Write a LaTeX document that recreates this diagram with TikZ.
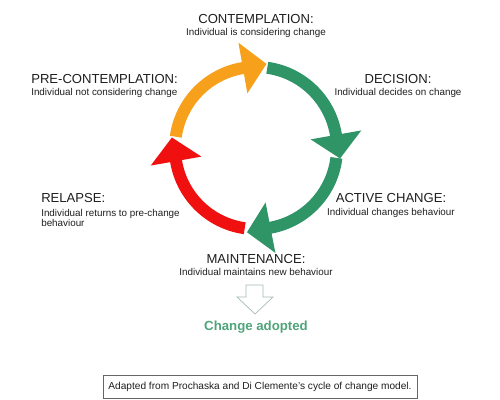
\documentclass[tikz,border=0pt]{standalone}
\usepackage{fontspec}
\setmainfont{Liberation Sans}
\usepackage{tikz}
\usetikzlibrary{positioning,arrows.meta}
\definecolor{cyorange}{HTML}{F7A01C}
\definecolor{cygreen}{HTML}{2F9466}
\definecolor{cyred}{HTML}{F01010}
\definecolor{cylight}{HTML}{4FA47A}
\definecolor{cyink}{HTML}{1E1E1E}

\begin{document}
\begin{tikzpicture}[
  x=0.025cm, y=0.025cm,
  stagetitle/.style={font=\fontsize{9.3}{10}\selectfont\color{cyink}, inner sep=0pt},
  stagetext/.style={font=\fontsize{7}{7.4}\selectfont\color{cyink}, inner sep=0pt},
  cyclearc/.style={line width=0.3cm, -{Triangle[width=1.25cm,length=0.6cm]}},
]
\useasboundingbox (0,0) rectangle (500,400);
\coordinate (ctr) at (256,252);
% the four arcs of the cycle, head straight from the end of each arc
\foreach \a/\c in {172/cyorange, 82/cygreen, -7/cygreen, -98/cyred} {
  \draw[cyclearc, \c] (ctr) ++(\a:81) arc[start angle=\a, end angle=\a-72, radius=81] -- ++(\a-162:25);
}

\node[stagetitle] (contemp) at (256,381) {CONTEMPLATION:};
\node[stagetext] (contempt) at (256,367) {Individual is considering change};
\node[stagetitle, anchor=west] (precon) at (31,321) {PRE-CONTEMPLATION:};
\node[stagetext, anchor=west] (precont) at (31,307) {Individual not considering change};
\node[stagetitle] (decision) at (398,321) {DECISION:};
\node[stagetext] (decisiont) at (398,307) {Individual decides on change};
\node[stagetitle] (active) at (391,202) {ACTIVE CHANGE:};
\node[stagetext] (activet) at (391,187) {Individual changes behaviour};
\node[stagetitle, anchor=west] (relapse) at (41,202) {RELAPSE:};
\node[stagetext, anchor=north west, align=left] (relapset) at (41,191) {Individual returns to pre-change\\behaviour};
\node[stagetitle] (maint) at (256,141) {MAINTENANCE:};
\node[stagetext] (maintt) at (256,128) {Individual maintains new behaviour};

% hollow arrow
\draw[cylight!45!gray!60, line width=0.5pt] (246,115) -- (263,115) -- (263,103) -- (273,103)
  -- (255,86) -- (237,103) -- (246,103) -- cycle;
\node[font=\fontsize{9.4}{10}\selectfont\bfseries\color{cylight}, inner sep=0pt] (adopted) at (256,73) {Change adopted};

\node[draw=gray!80!black, line width=0.5pt, minimum width=7.85cm, minimum height=0.575cm,
  font=\fontsize{7.2}{8}\selectfont\color{cyink}] (source) at (260,13.5)
  {Adapted from Prochaska and Di Clemente's cycle of change model.};
\end{tikzpicture}
\end{document}
